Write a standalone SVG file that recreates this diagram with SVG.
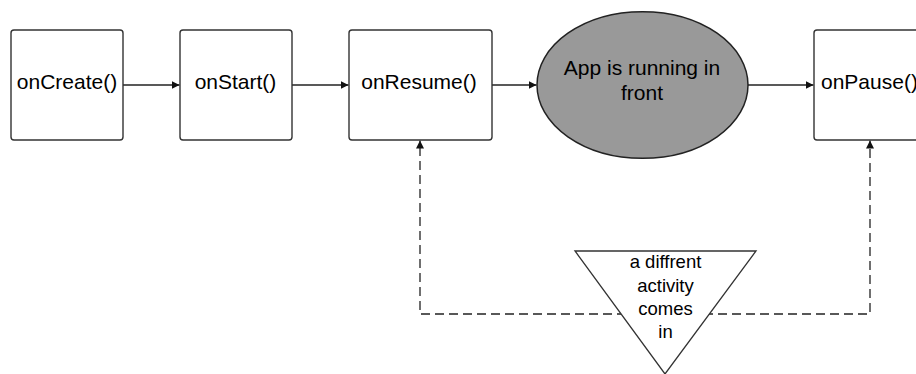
<svg xmlns="http://www.w3.org/2000/svg" width="916" height="374" viewBox="0 0 916 374">
<style>
.box{fill:#fff;stroke:#333;stroke-width:1.4}
.ell{fill:#999;stroke:#222;stroke-width:1.5}
.tri{fill:#fff;stroke:#333;stroke-width:1.3}
.lbl{font-family:"Liberation Sans",Arial,sans-serif;font-size:21px;fill:#000}
.tlbl{font-family:"Liberation Sans",Arial,sans-serif;font-size:18.5px;fill:#000;text-anchor:middle}
.con{fill:none;stroke:#222;stroke-width:1.3}
.dash{stroke-dasharray:9 5}
</style>
<defs>
<marker id="arr" markerUnits="userSpaceOnUse" markerWidth="9" markerHeight="8" refX="8" refY="4" orient="auto">
<path d="M0,0 L8,4 L0,8 z" fill="#111"/>
</marker>
</defs>
<rect width="916" height="374" fill="#fff"/>
<g id="connectors">
<path class="con" d="M123,85 H179.5" marker-end="url(#arr)"/>
<path class="con" d="M292,85 H348.5" marker-end="url(#arr)"/>
<path class="con" d="M492,85 H536.5" marker-end="url(#arr)"/>
<path class="con" d="M748,85 H813.5" marker-end="url(#arr)"/>
<path class="con dash" d="M640,314 H420 V140.5" marker-end="url(#arr)"/>
<path class="con dash" d="M690,314 H870 V140.5" marker-end="url(#arr)"/>
</g>
<g id="onCreate">
<rect class="box" x="11" y="30" width="112" height="110" rx="3"/>
<text class="lbl" x="67" y="89" text-anchor="middle">onCreate()</text>
</g>
<g id="onStart">
<rect class="box" x="180" y="30" width="112" height="110" rx="3"/>
<text class="lbl" x="235.5" y="89" text-anchor="middle">onStart()</text>
</g>
<g id="onResume">
<rect class="box" x="349" y="30" width="143" height="110" rx="3"/>
<text class="lbl" x="419" y="89" text-anchor="middle">onResume()</text>
</g>
<g id="running">
<ellipse class="ell" cx="642.5" cy="85" rx="105.5" ry="73.3"/>
<text class="lbl" x="642" y="75" text-anchor="middle">App is running in</text>
<text class="lbl" x="642" y="100" text-anchor="middle">front</text>
</g>
<g id="onPause">
<rect class="box" x="814" y="30" width="112" height="110" rx="3"/>
<text class="lbl" x="821" y="88.5">onPause()</text>
</g>
<g id="activity">
<polygon class="tri" points="575,251 756,251 665,374"/>
<text class="tlbl" x="665.5" y="268">a diffrent</text>
<text class="tlbl" x="665.5" y="291.5">activity</text>
<text class="tlbl" x="665.5" y="315">comes</text>
<text class="tlbl" x="665.5" y="338">in</text>
</g>
</svg>
